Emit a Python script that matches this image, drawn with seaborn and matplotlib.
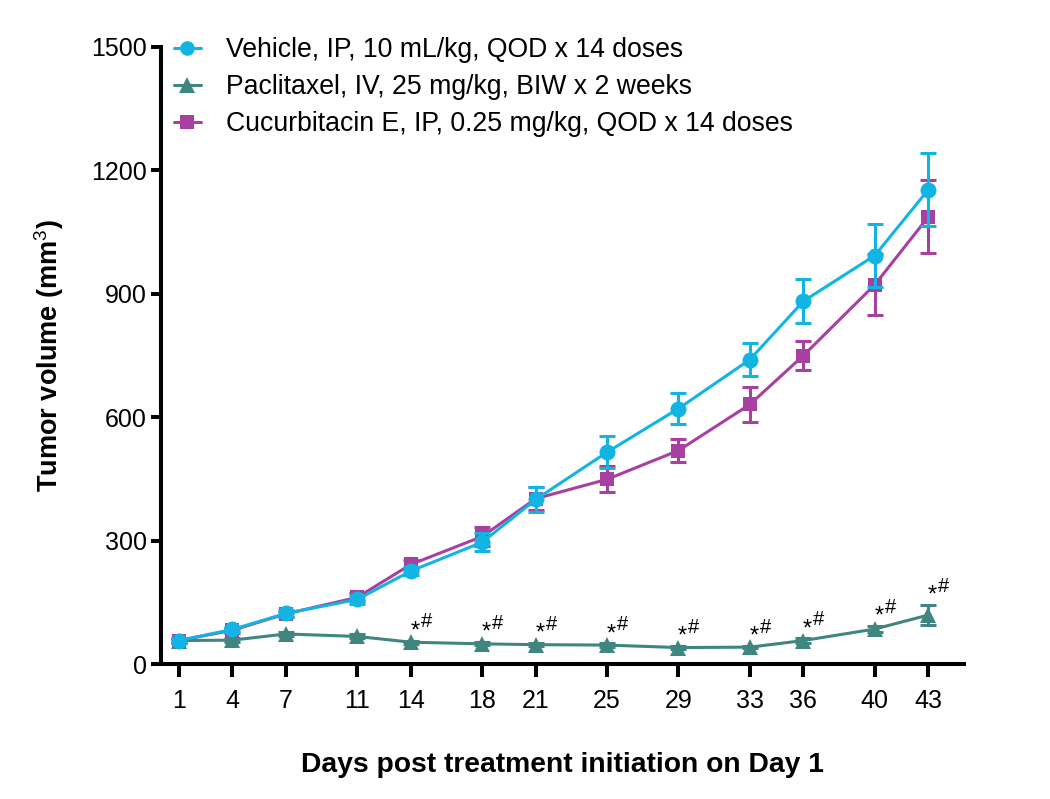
import matplotlib
matplotlib.use("Agg")
import matplotlib.pyplot as plt
import seaborn as sns
import pandas as pd
from matplotlib.lines import Line2D

days = [1, 4, 7, 11, 14, 18, 21, 25, 29, 33, 36, 40, 43]
vehicle_mean = [57, 84, 123, 157, 226, 296, 400, 515, 621, 740, 882, 993, 1153]
vehicle_sem = [5, 6, 8, 10, 10, 22, 31, 39, 38, 41, 54, 77, 89]
pacli_mean = [57, 58, 73, 67, 53, 49, 47, 46, 40, 41, 57, 85, 119]
pacli_sem = [4, 4, 5, 5, 4, 4, 4, 4, 3, 3, 5, 8, 25]
cucu_mean = [57, 82, 122, 162, 242, 310, 402, 449, 519, 631, 750, 922, 1087]
cucu_sem = [5, 6, 8, 10, 12, 23, 28, 32, 27, 43, 36, 74, 89]
sig_days = [14, 18, 21, 25, 29, 33, 36, 40, 43]
labels = ["Vehicle, IP, 10 mL/kg, QOD x 14 doses",
          "Paclitaxel, IV, 25 mg/kg, BIW x 2 weeks",
          "Cucurbitacin E, IP, 0.25 mg/kg, QOD x 14 doses"]
yticks = [0, 300, 600, 900, 1200, 1500]

colors = ["#12B4E4", "#3F8580", "#A8409F"]
markers = ["o", "^", "s"]
msizes = [11.5, 12, 10.5]
zorders = [5, 3, 4]

sns.set_theme(style="ticks")
plt.rcParams['font.family'] = ['Liberation Sans', 'DejaVu Sans']
plt.rcParams['mathtext.fontset'] = 'custom'
plt.rcParams['mathtext.rm'] = 'Liberation Sans'
plt.rcParams['mathtext.bf'] = 'Liberation Sans:bold'
plt.rcParams['text.color'] = 'black'
plt.rcParams['axes.labelcolor'] = 'black'

fig = plt.figure(figsize=(10.5, 7.99), dpi=100)
ax = fig.add_axes([161/1050, 1-664/799, (964-161)/1050, (664-47)/799])

series = [(vehicle_mean, vehicle_sem), (pacli_mean, pacli_sem), (cucu_mean, cucu_sem)]
for i, (m, s) in enumerate(series):
    df = pd.DataFrame({"day": days, "vol": m})
    sns.lineplot(data=df, x="day", y="vol", ax=ax, color=colors[i], marker=markers[i],
                 markersize=msizes[i], markeredgewidth=0, linewidth=2.2, zorder=zorders[i])
    ax.errorbar(days, m, yerr=s, fmt="none", ecolor=colors[i], elinewidth=2.2,
                capsize=5.5, capthick=2.2, zorder=zorders[i] - 0.5)

for d in sig_days:
    i = days.index(d)
    top = pacli_mean[i] + pacli_sem[i]
    ax.annotate("*", (d, top), xytext=(3, 2.4), textcoords="offset points",
                ha="center", va="baseline", fontsize=17, color="black")
    ax.annotate("#", (d, top), xytext=(11, 9.4), textcoords="offset points",
                ha="center", va="baseline", fontsize=14.5, color="black")

ax.set_xlim(0, 45)
ax.set_ylim(0, 1500)
ax.set_xticks(days)
ax.set_xticklabels([str(d) for d in days])
ax.set_yticks(yticks)
ax.tick_params(axis="x", length=9, width=2.9, labelsize=18, pad=9, colors="black")
ax.tick_params(axis="y", length=7, width=2.9, labelsize=18, pad=3, colors="black")
for sp in ["left", "bottom"]:
    ax.spines[sp].set_linewidth(2.9)
    ax.spines[sp].set_color("black")
sns.despine(ax=ax)

ax.set_xlabel("Days post treatment initiation on Day 1", fontsize=20.3, fontweight="bold",
              labelpad=28, color="black")
ax.set_ylabel(r"Tumor volume (mm$^3$)", fontsize=19.5, fontweight="bold", labelpad=18,
              color="black")

handles = [Line2D([0], [0], color=colors[i], marker=markers[i], markersize=msizes[i] - 1,
                  markeredgewidth=0, linewidth=2.2) for i in range(3)]
leg = fig.legend(handles, labels, loc="upper left", bbox_to_anchor=(174/1050, 1-37/799),
                 frameon=False, fontsize=19.2, handlelength=1.0, handletextpad=0.95,
                 labelspacing=0.42, borderaxespad=0, borderpad=0)
for t in leg.get_texts():
    t.set_color("black")

fig.savefig("out.png", dpi=100)
